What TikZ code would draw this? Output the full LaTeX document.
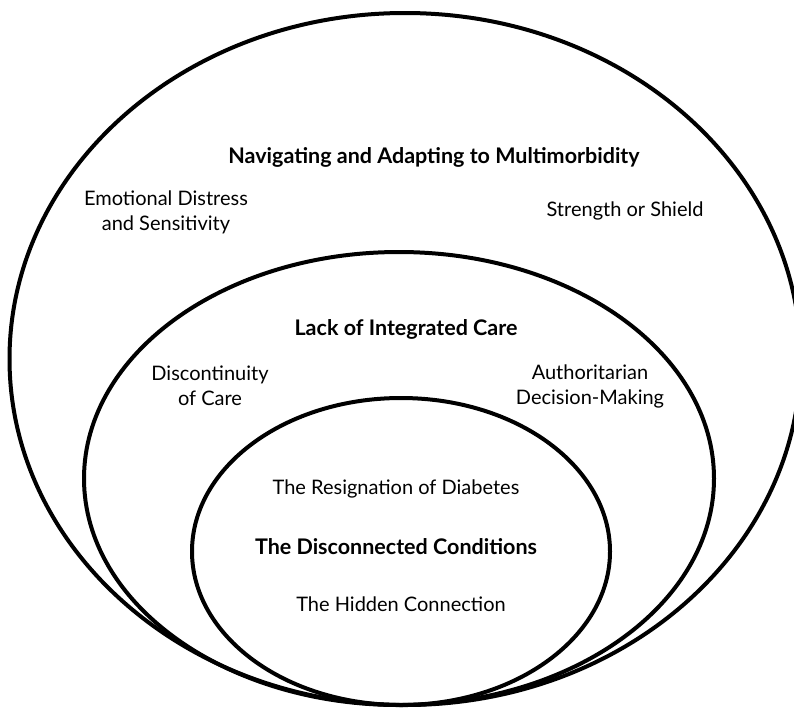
\documentclass[tikz,border=0pt]{standalone}
\usepackage{fontspec}
\setmainfont{Lato}
\tikzset{
  ring/.style={line width=4pt},
  theme/.style={font=\fontsize{21.5}{25}\selectfont\bfseries, align=center},
  sub/.style={font=\fontsize{20}{25}\selectfont, align=center},
}

\begin{document}
\begin{tikzpicture}[x=1pt,y=-1pt]
            \useasboundingbox (0,0) rectangle (794,710);
            % three nested ellipses, all touching at the bottom
            \draw[ring] (405,359) ellipse (395.5 and 346);
            \draw[ring] (399,478.5) ellipse (315 and 226.5);
            \draw[ring] (401,551.5) ellipse (209 and 153.5);
            \node[theme] (navigating) at (434,157) {Navigating and Adapting to Multimorbidity};
            \node[sub] (distress) at (166,212) {Emotional Distress\\and Sensitivity};
            \node[sub] (shield) at (625,211) {Strength or Shield};
            \node[theme] (integrated) at (406,329) {Lack of Integrated Care};
            \node[sub] (discontinuity) at (210,386) {Discontinuity\\of Care};
            \node[sub] (authoritarian) at (590,386) {Authoritarian\\Decision-Making};
            \node[sub] (resignation) at (396,489) {The Resignation of Diabetes};
            \node[theme] (disconnected) at (396,547) {The Disconnected Conditions};
            \node[sub] (hidden) at (401,604) {The Hidden Connection};
        \end{tikzpicture}
\end{document}
